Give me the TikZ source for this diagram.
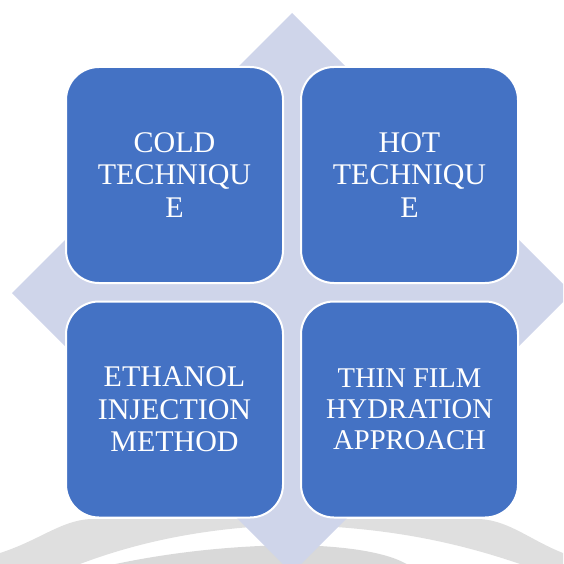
\documentclass[tikz,border=0pt]{standalone}
\usepackage{fontspec}
\setmainfont{Liberation Serif}
\definecolor{boxblue}{HTML}{4472C4}
\definecolor{diamondc}{HTML}{CFD5EA}
\definecolor{wmgray}{HTML}{DFDFDF}
\definecolor{wmgraydk}{HTML}{D9D9D9}
\begin{document}
\begin{tikzpicture}[x=1pt,y=-1pt,
  box/.style={draw=white, line width=2pt, fill=boxblue, rounded corners=33pt,
    minimum width=217pt, minimum height=216pt, text=white, align=center,
    inner sep=0pt},
  bigtxt/.style={font=\fontsize{30}{32.5}\selectfont},
  smalltxt/.style={font=\fontsize{28.6}{31}\selectfont}]
\useasboundingbox (0,0) rectangle (563,564);
\clip (0,0) rectangle (563,564);
% watermark arcs
\fill[wmgray] (0,553) .. controls (40,540) and (60,521) .. (90,519) -- (480,519)
  .. controls (510,521) and (530,540) .. (563,553) -- (563,564) -- (520,564)
  .. controls (450,540) and (380,527) .. (292,525)
  .. controls (200,527) and (130,545) .. (80,564) -- (0,564) -- cycle;
\fill[wmgraydk] (106,566) .. controls (170,552) and (230,546) .. (292,545)
  .. controls (350,546) and (390,553) .. (410,566) -- cycle;
% diamond
\fill[diamondc] (292,13) -- (572,293) -- (292,573) -- (12,293) -- cycle;
% boxes
\node[box, bigtxt] (cold) at (174.5,175) {COLD\\TECHNIQU\\E};
\node[box, bigtxt] (hot) at (409.5,175) {HOT\\TECHNIQU\\E};
\node[box, bigtxt] (ethanol) at (174.5,409.5) {ETHANOL\\INJECTION\\METHOD};
\node[box, smalltxt] (thin) at (409.5,409.5) {THIN FILM\\HYDRATION\\APPROACH};
\end{tikzpicture}
\end{document}
